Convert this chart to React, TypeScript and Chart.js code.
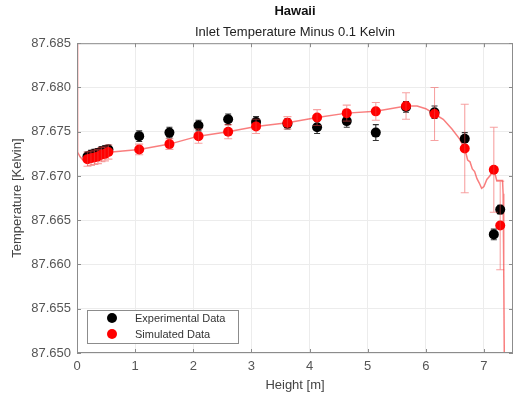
import { useEffect, useRef } from "react";
import { Chart, registerables } from "chart.js";

Chart.register(...registerables);

// Measurement heights (m), shared by experiment and simulation
const heights = [
  0.18, 0.24, 0.3, 0.36, 0.42, 0.48, 0.54, 1.07, 1.59, 2.09, 2.6, 3.08, 3.62,
  4.13, 4.64, 5.14, 5.66, 6.15, 6.67, 7.17, 7.28,
];

// Experimental temperatures (K) and their uncertainty
const expTemp = [
  87.6722, 87.6724, 87.6725, 87.6726, 87.6728, 87.6729, 87.673, 87.6745,
  87.6749, 87.6757, 87.6764, 87.6761, 87.6759, 87.6755, 87.6762, 87.6749,
  87.6778, 87.6772, 87.6742, 87.6634, 87.6662,
];
const expErr = [
  0.0005, 0.0005, 0.0005, 0.0005, 0.0005, 0.0005, 0.0005, 0.0006, 0.0006,
  0.0006, 0.0006, 0.0006, 0.0006, 0.0007, 0.0007, 0.0009, 0.0006, 0.0007,
  0.0007, 0.0006, 0.0005,
];

// Simulated temperatures (K) at the same heights and their spread
const simTemp = [
  87.6719, 87.672, 87.6721, 87.6722, 87.6724, 87.6725, 87.6727, 87.673,
  87.6736, 87.6745, 87.675, 87.6756, 87.676, 87.6766, 87.6771, 87.6773,
  87.6779, 87.677, 87.6731, 87.6707, 87.6644,
];
const simErr = [
  0.0008, 0.0008, 0.0008, 0.0008, 0.0008, 0.0008, 0.0008, 0.0006, 0.0006,
  0.0008, 0.0008, 0.0008, 0.0007, 0.0009, 0.0009, 0.001, 0.0015, 0.003,
  0.005, 0.0048, 0.005,
];

// Continuous simulated profile along the column
const profileHeight = [
  0, 0.01, 0.05, 0.1, 0.2, 0.6, 1.07, 1.59, 2.09, 2.6, 3.08, 3.62, 4.13, 4.64,
  5.14, 5.66, 5.85, 6.0, 6.15, 6.3, 6.45, 6.58, 6.67, 6.72, 6.76, 6.8, 6.84,
  6.88, 6.92, 6.96, 7.0, 7.05, 7.1, 7.17, 7.2, 7.22, 7.32, 7.33, 7.34, 7.35,
  7.36,
];
const profileTemp = [
  87.69, 87.6727, 87.6722, 87.6718, 87.6719, 87.6727, 87.673, 87.6736,
  87.6745, 87.675, 87.6756, 87.676, 87.6766, 87.6771, 87.6773, 87.6779,
  87.6779, 87.6776, 87.677, 87.6764, 87.6753, 87.6742, 87.6731, 87.6718,
  87.6716, 87.6708, 87.6705, 87.6697, 87.6692, 87.6686, 87.6688, 87.6696,
  87.67, 87.6707, 87.67, 87.6695, 87.6695, 87.668, 87.66, 87.65, 87.64,
];

const xTicks = [0, 1, 2, 3, 4, 5, 6, 7];
const yTicks = [87.65, 87.655, 87.66, 87.665, 87.67, 87.675, 87.68, 87.685];

const FONT = "'Liberation Sans', Arial, Helvetica, sans-serif";

// The layout keeps a few pixels of spare room on the right of the axes;
// the canvas is drawn slightly wider and trimmed by its container.
const VIEW_W = 513;
const VIEW_H = 398;
const CANVAS_W = 518;

export default function App() {
  const canvasRef = useRef<HTMLCanvasElement | null>(null);

  useEffect(() => {
    const canvas = canvasRef.current;
    if (!canvas) return;

    const errorBars = (ctx: CanvasRenderingContext2D, chart: any, temps: number[], errs: number[], color: string, half: number) => {
      const xs = chart.scales.x;
      const ys = chart.scales.y;
      const area = chart.chartArea;
      ctx.save();
      ctx.beginPath();
      ctx.rect(area.left, area.top, area.right - area.left, area.bottom - area.top);
      ctx.clip();
      ctx.strokeStyle = color;
      ctx.lineWidth = 1.1;
      heights.forEach((h, i) => {
        const px = xs.getPixelForValue(h);
        const top = ys.getPixelForValue(temps[i] + errs[i]);
        const bot = ys.getPixelForValue(temps[i] - errs[i]);
        ctx.beginPath();
        ctx.moveTo(px, top);
        ctx.lineTo(px, bot);
        ctx.moveTo(px - half, top);
        ctx.lineTo(px + half, top);
        ctx.moveTo(px - half, bot);
        ctx.lineTo(px + half, bot);
        ctx.stroke();
      });
      ctx.restore();
    };

    const decorations = {
      id: "decorations",
      beforeDatasetsDraw(chart: any) {
        errorBars(chart.ctx, chart, expTemp, expErr, "rgba(0,0,0,0.8)", 3);
      },
      afterDatasetsDraw(chart: any) {
        errorBars(chart.ctx, chart, simTemp, simErr, "rgba(240,70,70,0.5)", 4);
      },
      afterDraw(chart: any) {
        const ctx = chart.ctx as CanvasRenderingContext2D;
        const a = chart.chartArea;
        const xs = chart.scales.x;
        const ys = chart.scales.y;
        ctx.save();
        // axes box
        ctx.strokeStyle = "#8c8c8c";
        ctx.lineWidth = 1;
        ctx.strokeRect(a.left + 0.5, a.top + 0.5, a.right - a.left - 1, a.bottom - a.top - 1);
        // inward tick marks on all four sides
        ctx.beginPath();
        xTicks.forEach((t) => {
          const px = Math.round(xs.getPixelForValue(t)) + 0.5;
          ctx.moveTo(px, a.bottom);
          ctx.lineTo(px, a.bottom - 4);
          ctx.moveTo(px, a.top);
          ctx.lineTo(px, a.top + 4);
        });
        yTicks.forEach((t) => {
          const py = Math.round(ys.getPixelForValue(t)) + 0.5;
          ctx.moveTo(a.left, py);
          ctx.lineTo(a.left + 4, py);
          ctx.moveTo(a.right, py);
          ctx.lineTo(a.right - 4, py);
        });
        ctx.stroke();

        // legend box inside the axes
        const lx = a.left + 10;
        const ly = 310;
        const lw = 151;
        const lh = 33;
        ctx.fillStyle = "#ffffff";
        ctx.fillRect(lx, ly, lw, lh);
        ctx.strokeStyle = "#8c8c8c";
        ctx.strokeRect(lx + 0.5, ly + 0.5, lw, lh);
        const entries = [chart.data.datasets[1], chart.data.datasets[0]];
        entries.forEach((ds: any, i: number) => {
          const cy = ly + 8 + i * 16;
          ctx.beginPath();
          ctx.fillStyle = ds.backgroundColor;
          ctx.arc(lx + 25, cy, 5, 0, Math.PI * 2);
          ctx.fill();
          ctx.fillStyle = "#333333";
          ctx.font = `11px ${FONT}`;
          ctx.textBaseline = "middle";
          ctx.textAlign = "left";
          ctx.fillText(ds.label, lx + 48, cy + 1);
        });
        ctx.restore();
      },
    };

    const chart = new Chart(canvas, {
      type: "scatter",
      data: {
        datasets: [
          {
            label: "Simulated Data",
            data: heights.map((h, i) => ({ x: h, y: simTemp[i] })),
            backgroundColor: "#ff0000",
            borderColor: "#ff0000",
            pointRadius: 5,
            borderWidth: 0,
            order: 0,
          },
          {
            label: "Experimental Data",
            data: heights.map((h, i) => ({ x: h, y: expTemp[i] })),
            backgroundColor: "#000000",
            borderColor: "#000000",
            pointRadius: 5,
            borderWidth: 0,
            order: 1,
          },
          {
            label: "Simulated Profile",
            data: profileHeight.map((h, i) => ({ x: h, y: profileTemp[i] })),
            showLine: true,
            borderColor: "rgba(245,40,40,0.6)",
            backgroundColor: "rgba(245,40,40,0.6)",
            borderWidth: 1.5,
            pointRadius: 0,
            order: 2,
          },
        ],
      },
      options: {
        animation: false,
        responsive: false,
        events: [],
        layout: { padding: { left: 0, right: 1, top: 0, bottom: 0 } },
        plugins: {
          legend: { display: false },
          tooltip: { enabled: false },
          title: {
            display: true,
            text: "Hawaii",
            fullSize: false,
            color: "#111111",
            font: { family: FONT, size: 13, weight: "bold" },
            padding: { top: 4, bottom: 4 },
          },
          subtitle: {
            display: true,
            text: "Inlet Temperature Minus 0.1 Kelvin",
            fullSize: false,
            color: "#222222",
            font: { family: FONT, size: 13 },
            padding: { top: 1, bottom: 3 },
          },
        },
        scales: {
          x: {
            type: "linear",
            min: 0,
            max: 7.5,
            afterBuildTicks: (s: any) => {
              s.ticks = xTicks.map((v) => ({ value: v }));
            },
            afterFit: (s: any) => {
              s.height = 45;
              s.paddingLeft = 0;
              s.paddingRight = 0;
            },
            grid: { color: "#ececec", drawTicks: false },
            border: { display: false },
            ticks: {
              padding: 6,
              color: "#555555",
              font: { family: FONT, size: 13 },
              callback: (v: any) => String(v),
            },
            title: {
              display: true,
              text: "Height [m]",
              color: "#444444",
              font: { family: FONT, size: 13 },
              padding: { top: 0, bottom: 5 },
            },
          },
          y: {
            type: "linear",
            min: 87.65,
            max: 87.685,
            afterBuildTicks: (s: any) => {
              s.ticks = yTicks.map((v) => ({ value: v }));
            },
            afterFit: (s: any) => {
              s.width = 77;
              s.paddingTop = 0;
              s.paddingBottom = 0;
            },
            grid: { color: "#ececec", drawTicks: false },
            border: { display: false },
            ticks: {
              padding: 6,
              color: "#555555",
              font: { family: FONT, size: 13 },
              callback: (v: any) => Number(v).toFixed(3),
            },
            title: {
              display: true,
              text: "Temperature [Kelvin]",
              color: "#444444",
              font: { family: FONT, size: 13 },
              padding: { top: 10, bottom: 0 },
            },
          },
        },
      },
      plugins: [decorations],
    } as any);

    return () => chart.destroy();
  }, []);

  return (
    <div style={{ position: "absolute", left: 0, top: 0, width: VIEW_W, height: VIEW_H, overflow: "hidden", background: "#ffffff" }}>
      <canvas ref={canvasRef} width={CANVAS_W} height={VIEW_H} style={{ width: CANVAS_W, height: VIEW_H, display: "block" }} />
    </div>
  );
}
